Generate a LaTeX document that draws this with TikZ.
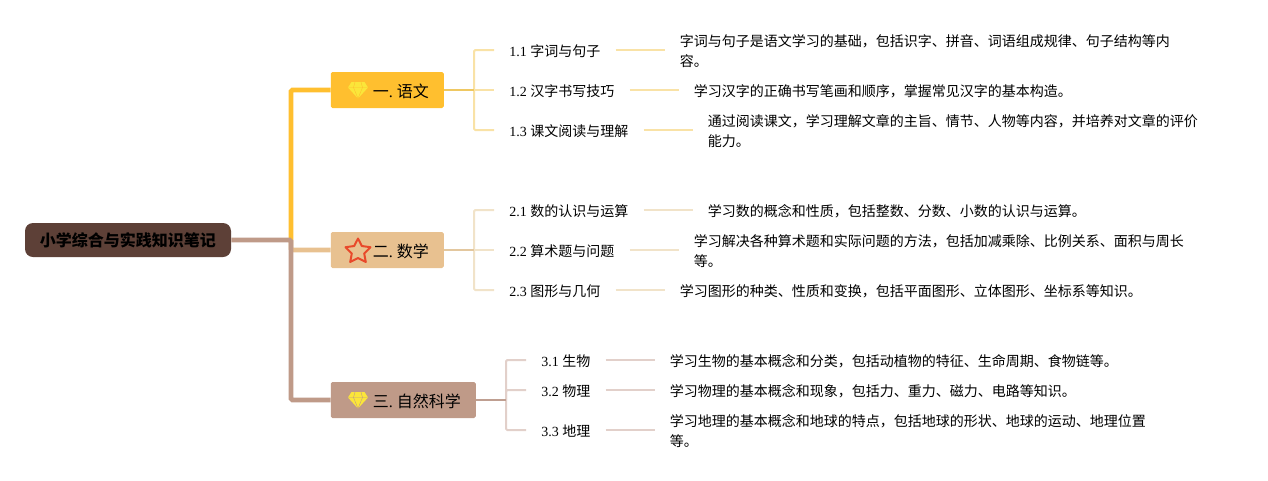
\documentclass[tikz,border=0pt]{standalone}
\usepackage{fontspec}
\setmainfont{Liberation Serif}
\newfontfamily\cjk{Noto Sans CJK SC}
\newcommand{\C}[1]{{\cjk #1}}
\definecolor{cRoot}{HTML}{5D4037}
\definecolor{cA}{HTML}{FFBF2F}
\definecolor{cB}{HTML}{E8C190}
\definecolor{cC}{HTML}{BF9A88}
\definecolor{lA}{HTML}{F9E2A6}
\definecolor{lB}{HTML}{F1E3C9}
\definecolor{lC}{HTML}{E2D0CA}
\definecolor{dA}{HTML}{EFC862}
\definecolor{dB}{HTML}{E3C79E}
\definecolor{dC}{HTML}{BF9F91}
\definecolor{gem}{HTML}{FBE63A}
\definecolor{starc}{HTML}{E8492B}
\tikzset{
  rootbox/.style={draw=none,fill=cRoot,rounded corners=6pt,minimum width=154.5pt,minimum height=25.5pt,inner sep=0pt,font=\fontsize{12}{15}\selectfont\cjk\bfseries,text=black},
  mainbox/.style={fill=#1,rounded corners=1.2pt,minimum height=27pt,inner xsep=11.25pt,inner ysep=0pt,text height=12.6pt,text depth=2pt,font=\fontsize{12}{15}\selectfont,anchor=west,text=black},
  leaf/.style={inner xsep=11.25pt,inner ysep=2pt,yshift=-0.75pt,font=\fontsize{10.5}{15}\selectfont,anchor=west,text=black},
  desc/.style={inner xsep=11.25pt,inner ysep=0pt,font=\fontsize{10.5}{15}\selectfont\cjk,anchor=west,align=left,text=black},
  trunk/.style={line width=3.4pt,rounded corners=1pt},
  branch/.style={line width=1.5pt,rounded corners=1pt},
  joinline/.style={line width=1.5pt},
  gemicon/.pic={
    \fill[gem,line join=round] (-6.5,-8) -- (6.5,-8) -- (10,-2.5) -- (0,8.5) -- (-10,-2.5) -- cycle;
    \draw[#1,line width=.3pt] (-10,-2.5) -- (10,-2.5) (-3,-8) -- (-4.5,-2.5) -- (0,8.5) -- (4.5,-2.5) -- (3,-8);
  },
}
\begin{document}
\begin{tikzpicture}[x=0.75pt,y=-0.75pt]
\useasboundingbox (0,0) rectangle (1268,480);
\coordinate (hub) at (291,240);
\coordinate (fa) at (474,90);
\coordinate (fb) at (474,250);
\coordinate (fc) at (506,400);

\node[rootbox] (root) at (128,240) {小学综合与实践知识笔记};
\node[mainbox=cA] (n1) at (330.5,90) {\hspace*{20.25pt}\C{一}.\ \C{语文}};
\node[mainbox=cB] (n2) at (330.5,250) {\hspace*{20.25pt}\C{二}.\ \C{数学}};
\node[mainbox=cC] (n3) at (330.5,400) {\hspace*{20.25pt}\C{三}.\ \C{自然科学}};

\node[leaf] (a1) at (494,50) {1.1 \C{字词与句子}};
\node[leaf] (a2) at (494,90) {1.2 \C{汉字书写技巧}};
\node[leaf] (a3) at (494,130) {1.3 \C{课文阅读与理解}};
\node[leaf] (b1) at (494,210) {2.1 \C{数的认识与运算}};
\node[leaf] (b2) at (494,250) {2.2 \C{算术题与问题}};
\node[leaf] (b3) at (494,290) {2.3 \C{图形与几何}};
\node[leaf] (c1) at (526,360) {3.1 \C{生物}};
\node[leaf] (c2) at (526,390) {3.2 \C{物理}};
\node[leaf] (c3) at (526,430) {3.3 \C{地理}};

\node[desc] (da1) at ([xshift=36.75pt]a1.east) {字词与句子是语文学习的基础，包括识字、拼音、词语组成规律、句子结构等内\\容。};
\node[desc] (da2) at ([xshift=36.75pt]a2.east) {学习汉字的正确书写笔画和顺序，掌握常见汉字的基本构造。};
\node[desc] (da3) at ([xshift=36.75pt]a3.east) {通过阅读课文，学习理解文章的主旨、情节、人物等内容，并培养对文章的评价\\能力。};
\node[desc] (db1) at ([xshift=36.75pt]b1.east) {学习数的概念和性质，包括整数、分数、小数的认识与运算。};
\node[desc] (db2) at ([xshift=36.75pt]b2.east) {学习解决各种算术题和实际问题的方法，包括加减乘除、比例关系、面积与周长\\等。};
\node[desc] (db3) at ([xshift=36.75pt]b3.east) {学习图形的种类、性质和变换，包括平面图形、立体图形、坐标系等知识。};
\node[desc] (dc1) at ([xshift=36.75pt]c1.east) {学习生物的基本概念和分类，包括动植物的特征、生命周期、食物链等。};
\node[desc] (dc2) at ([xshift=36.75pt]c2.east) {学习物理的基本概念和现象，包括力、重力、磁力、电路等知识。};
\node[desc] (dc3) at ([xshift=36.75pt]c3.east) {学习地理的基本概念和地球的特点，包括地球的形状、地球的运动、地理位置\\等。};

\draw[trunk,cA] (hub) |- (n1.west);
\draw[trunk,cB] (hub) |- (n2.west);
\draw[trunk,cC] (root.east) -- (hub) |- (n3.west);

\draw[branch,lA] (fa) |- ([yshift=.75pt]a1.west);
\draw[branch,lA] (fa) -- ([yshift=.75pt]a2.west);
\draw[branch,lA] (fa) |- ([yshift=.75pt]a3.west);
\draw[joinline,dA] (n1.east) -- (fa);
\draw[branch,lB] (fb) |- ([yshift=.75pt]b1.west);
\draw[branch,lB] (fb) -- ([yshift=.75pt]b2.west);
\draw[branch,lB] (fb) |- ([yshift=.75pt]b3.west);
\draw[joinline,dB] (n2.east) -- (fb);
\draw[branch,lC] (fc) |- ([yshift=.75pt]c1.west);
\draw[branch,lC] (fc) |- ([yshift=.75pt]c2.west);
\draw[branch,lC] (fc) |- ([yshift=.75pt]c3.west);
\draw[joinline,dC] (n3.east) -- (fc);

\foreach \p/\q/\c in {a1/da1/lA,a2/da2/lA,a3/da3/lA,b1/db1/lB,b2/db2/lB,b3/db3/lB,c1/dc1/lC,c2/dc2/lC,c3/dc3/lC}
  \draw[branch,\c] ([yshift=.75pt]\p.east) -- ([yshift=.75pt]\q.west);

\pic at (358,90) {gemicon=cA};
\pic at (358,400) {gemicon=cC};
\draw[starc,line width=1.5pt,line join=round]
  (358,238.5) -- (361.8,246) -- (370.5,247.2) -- (364.2,253.5) -- (365.8,262) -- (358,258) -- (350.2,262) -- (351.8,253.5) -- (345.5,247.2) -- (354.2,246) -- cycle;
\end{tikzpicture}
\end{document}
